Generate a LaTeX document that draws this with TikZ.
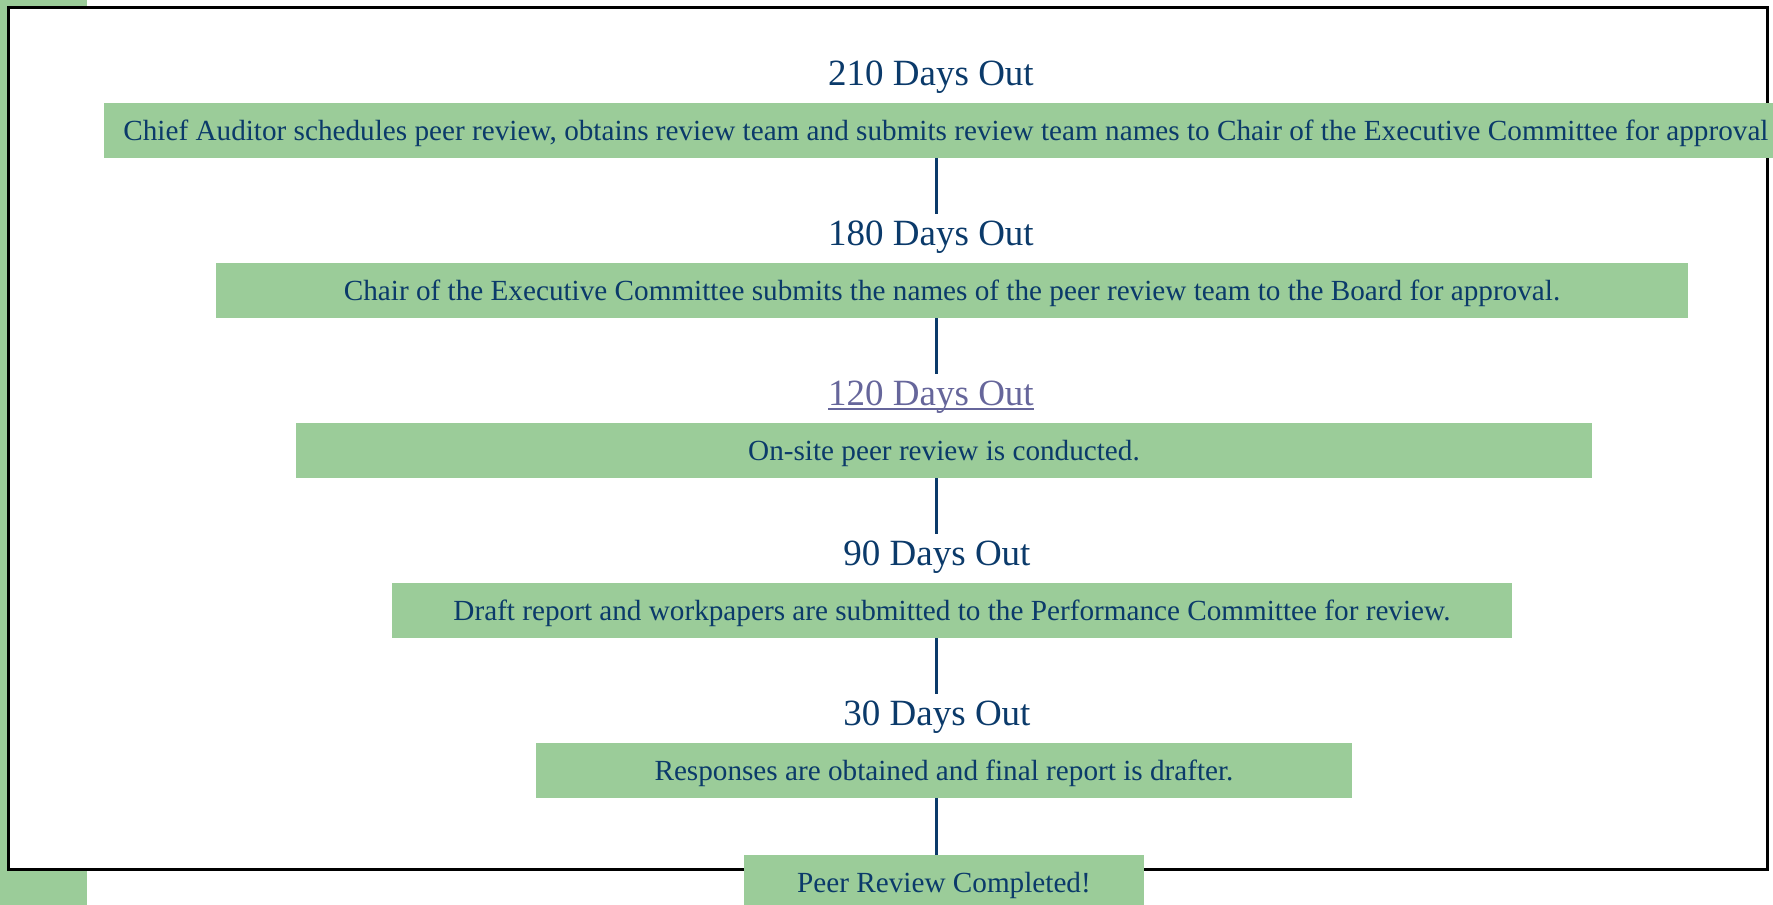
\documentclass[tikz,border=0pt]{standalone}
\usepackage{fontspec}
\setmainfont{Liberation Serif}
\usepackage{tikz}
\usetikzlibrary{calc}
\usetikzlibrary{positioning}
\usepackage{color}
\definecolor{sage}{RGB}{155, 204, 153}
\definecolor{navy}{RGB}{11, 58, 106}
\definecolor{visited}{RGB}{102, 102, 155}
\newcommand{\linkline}[1]{{\setbox0\hbox{#1}\rlap{\rule[-2.6pt]{\wd0}{1pt}}\box0}}

\begin{document}
\begin{tikzpicture}[x=0.5pt, y=-0.5pt,
        stage/.style={fill=sage, text=navy, font=\fontsize{14.6}{17}\selectfont,
                      minimum height=27.5pt, inner xsep=9.5pt, inner ysep=0pt,
                      text height=10pt, text depth=0pt},
        daysout/.style={text=navy, font=\fontsize{18.5}{22}\selectfont,
                        inner sep=0pt, outer sep=3pt, anchor=base},
        link/.style={draw=navy, line width=1.5pt}]
            \useasboundingbox (0,0) rectangle (1773,905);
            % Side strip & frame
            \fill[sage]                                                       (0,0) rectangle (87,905);
            \filldraw[color=black, fill=white, line width=1.5pt]              (8,7) rectangle (1767,869);
            % Time marks
            \node[daysout] (d210) at (931, 85)  {210 Days Out};
            \node[daysout] (d180) at (931,245)  {180 Days Out};
            \node[daysout, text=visited] (d120) at (931,405) {\linkline{120 Days Out}};
            \node[daysout] (d90)  at (937,565)  {90 Days Out};
            \node[daysout] (d30)  at (937,725)  {30 Days Out};
            % Steps
            \node[stage, anchor=west] (sched) at (104,130)
                 {Chief Auditor schedules peer review, obtains review team and submits review team names to Chair of the Executive Committee for approval};
            \node[stage, minimum width=736pt] (chair)  at (952,290.5)
                 {Chair of the Executive Committee submits the names of the peer review team to the Board for approval.};
            \node[stage, minimum width=648pt] (onsite) at (944,450.5)
                 {On-site peer review is conducted.};
            \node[stage, minimum width=560pt] (draft)  at (952,610.5)
                 {Draft report and workpapers are submitted to the Performance Committee for review.};
            \node[stage, minimum width=408pt] (final)  at (944,770)
                 {Responses are obtained and final report is drafter.};
            \node[stage, minimum width=200pt] (done)   at (944,882.5)
                 {Peer Review Completed!};
            % Spine
            \coordinate (spine) at (936,0);
            \draw[link] (sched.south -| spine)  -- (d180.north -| spine);
            \draw[link] (chair.south -| spine)  -- (d120.north -| spine);
            \draw[link] (onsite.south -| spine) -- (d90.north -| spine);
            \draw[link] (draft.south -| spine)  -- (d30.north -| spine);
            \draw[link] (final.south -| spine)  -- (done.north -| spine);
\end{tikzpicture}
\end{document}
